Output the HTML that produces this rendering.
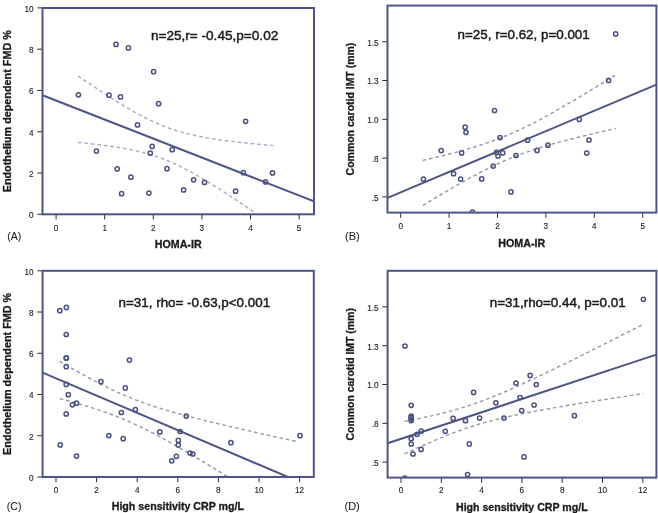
<!DOCTYPE html>
<html><head><meta charset="utf-8"><style>
html,body{margin:0;padding:0;background:#fff;}
svg{display:block;font-family:"Liberation Sans", sans-serif;filter:blur(0.3px);}
</style></head><body>
<svg width="658" height="513" viewBox="0 0 658 513">
<rect width="658" height="513" fill="#fff"/>
<clipPath id="cA"><rect x="42.5" y="8" width="271.5" height="206.3"/></clipPath>
<line x1="37.3" y1="214.3" x2="42.5" y2="214.3" stroke="#2a2a2a" stroke-width="1"/>
<text x="33.6" y="218.20000000000002" font-size="8.2" font-weight="normal" text-anchor="end" fill="#1a1a1a" stroke="#1a1a1a" stroke-width="0.12">0</text>
<line x1="37.3" y1="173.02" x2="42.5" y2="173.02" stroke="#2a2a2a" stroke-width="1"/>
<text x="33.6" y="176.92000000000002" font-size="8.2" font-weight="normal" text-anchor="end" fill="#1a1a1a" stroke="#1a1a1a" stroke-width="0.12">2</text>
<line x1="37.3" y1="131.74" x2="42.5" y2="131.74" stroke="#2a2a2a" stroke-width="1"/>
<text x="33.6" y="135.64000000000001" font-size="8.2" font-weight="normal" text-anchor="end" fill="#1a1a1a" stroke="#1a1a1a" stroke-width="0.12">4</text>
<line x1="37.3" y1="90.46000000000001" x2="42.5" y2="90.46000000000001" stroke="#2a2a2a" stroke-width="1"/>
<text x="33.6" y="94.36000000000001" font-size="8.2" font-weight="normal" text-anchor="end" fill="#1a1a1a" stroke="#1a1a1a" stroke-width="0.12">6</text>
<line x1="37.3" y1="49.18000000000001" x2="42.5" y2="49.18000000000001" stroke="#2a2a2a" stroke-width="1"/>
<text x="33.6" y="53.080000000000005" font-size="8.2" font-weight="normal" text-anchor="end" fill="#1a1a1a" stroke="#1a1a1a" stroke-width="0.12">8</text>
<line x1="37.3" y1="7.900000000000006" x2="42.5" y2="7.900000000000006" stroke="#2a2a2a" stroke-width="1"/>
<text x="33.6" y="11.800000000000006" font-size="8.2" font-weight="normal" text-anchor="end" fill="#1a1a1a" stroke="#1a1a1a" stroke-width="0.12">10</text>
<line x1="56.1" y1="214.3" x2="56.1" y2="219.5" stroke="#2a2a2a" stroke-width="1"/>
<text x="56.1" y="231.2" font-size="8.2" font-weight="normal" text-anchor="middle" fill="#1a1a1a" stroke="#1a1a1a" stroke-width="0.12">0</text>
<line x1="104.7" y1="214.3" x2="104.7" y2="219.5" stroke="#2a2a2a" stroke-width="1"/>
<text x="104.7" y="231.2" font-size="8.2" font-weight="normal" text-anchor="middle" fill="#1a1a1a" stroke="#1a1a1a" stroke-width="0.12">1</text>
<line x1="153.3" y1="214.3" x2="153.3" y2="219.5" stroke="#2a2a2a" stroke-width="1"/>
<text x="153.3" y="231.2" font-size="8.2" font-weight="normal" text-anchor="middle" fill="#1a1a1a" stroke="#1a1a1a" stroke-width="0.12">2</text>
<line x1="201.9" y1="214.3" x2="201.9" y2="219.5" stroke="#2a2a2a" stroke-width="1"/>
<text x="201.9" y="231.2" font-size="8.2" font-weight="normal" text-anchor="middle" fill="#1a1a1a" stroke="#1a1a1a" stroke-width="0.12">3</text>
<line x1="250.5" y1="214.3" x2="250.5" y2="219.5" stroke="#2a2a2a" stroke-width="1"/>
<text x="250.5" y="231.2" font-size="8.2" font-weight="normal" text-anchor="middle" fill="#1a1a1a" stroke="#1a1a1a" stroke-width="0.12">4</text>
<line x1="299.1" y1="214.3" x2="299.1" y2="219.5" stroke="#2a2a2a" stroke-width="1"/>
<text x="299.1" y="231.2" font-size="8.2" font-weight="normal" text-anchor="middle" fill="#1a1a1a" stroke="#1a1a1a" stroke-width="0.12">5</text>
<polyline clip-path="url(#cA)" points="78.00,75.97 80.44,77.63 82.88,79.28 85.32,80.93 87.77,82.57 90.21,84.20 92.65,85.83 95.09,87.45 97.53,89.07 99.97,90.67 102.41,92.27 104.85,93.85 107.30,95.43 109.74,96.99 112.18,98.54 114.62,100.08 117.06,101.61 119.50,103.12 121.94,104.61 124.38,106.09 126.83,107.54 129.27,108.98 131.71,110.40 134.15,111.79 136.59,113.15 139.03,114.49 141.47,115.81 143.91,117.09 146.36,118.34 148.80,119.55 151.24,120.74 153.68,121.88 156.12,122.99 158.56,124.06 161.00,125.09 163.44,126.08 165.88,127.03 168.33,127.94 170.77,128.80 173.21,129.63 175.65,130.43 178.09,131.18 180.53,131.90 182.97,132.58 185.42,133.23 187.86,133.85 190.30,134.44 192.74,135.00 195.18,135.54 197.62,136.05 200.06,136.54 202.50,137.00 204.94,137.45 207.39,137.88 209.83,138.29 212.27,138.68 214.71,139.06 217.15,139.43 219.59,139.78 222.03,140.12 224.47,140.45 226.92,140.77 229.36,141.08 231.80,141.38 234.24,141.68 236.68,141.96 239.12,142.24 241.56,142.51 244.01,142.77 246.45,143.03 248.89,143.29 251.33,143.53 253.77,143.78 256.21,144.02 258.65,144.25 261.09,144.48 263.54,144.71 265.98,144.93 268.42,145.15 270.86,145.37 273.30,145.58" fill="none" stroke="#a3abc6" stroke-width="1.4" stroke-dasharray="3.6 2.9"/>
<polyline clip-path="url(#cA)" points="78.00,142.36 80.44,142.61 82.88,142.87 85.32,143.13 87.77,143.39 90.21,143.67 92.65,143.95 95.09,144.23 97.53,144.53 99.97,144.83 102.41,145.14 104.85,145.46 107.30,145.80 109.74,146.14 112.18,146.49 114.62,146.86 117.06,147.25 119.50,147.64 121.94,148.06 124.38,148.49 126.83,148.94 129.27,149.41 131.71,149.90 134.15,150.42 136.59,150.96 139.03,151.53 141.47,152.12 143.91,152.75 146.36,153.41 148.80,154.10 151.24,154.83 153.68,155.59 156.12,156.39 158.56,157.23 161.00,158.10 163.44,159.02 165.88,159.98 168.33,160.98 170.77,162.02 173.21,163.09 175.65,164.21 178.09,165.36 180.53,166.55 182.97,167.78 185.42,169.03 187.86,170.32 190.30,171.64 192.74,172.99 195.18,174.36 197.62,175.75 200.06,177.17 202.50,178.62 204.94,180.08 207.39,181.56 209.83,183.05 212.27,184.57 214.71,186.09 217.15,187.64 219.59,189.19 222.03,190.76 224.47,192.34 226.92,193.92 229.36,195.52 231.80,197.13 234.24,198.74 236.68,200.37 239.12,202.00 241.56,203.63 244.01,205.27 246.45,206.92 248.89,208.58 251.33,210.24 253.77,211.90 256.21,213.57 258.65,215.24 261.09,216.92 263.54,218.60 265.98,220.29 268.42,221.97 270.86,223.67 273.30,225.36" fill="none" stroke="#a3abc6" stroke-width="1.4" stroke-dasharray="3.6 2.9"/>
<line clip-path="url(#cA)" x1="42.5" y1="95.30" x2="314" y2="201.37" stroke="#4b5687" stroke-width="2"/>
<circle clip-path="url(#cA)" cx="116.0" cy="44.4" r="2.1" fill="none" stroke="#4a5082" stroke-width="1.5"/>
<circle clip-path="url(#cA)" cx="128.4" cy="47.9" r="2.1" fill="none" stroke="#4a5082" stroke-width="1.5"/>
<circle clip-path="url(#cA)" cx="153.6" cy="71.7" r="2.1" fill="none" stroke="#4a5082" stroke-width="1.5"/>
<circle clip-path="url(#cA)" cx="78.4" cy="94.8" r="2.1" fill="none" stroke="#4a5082" stroke-width="1.5"/>
<circle clip-path="url(#cA)" cx="109" cy="95.2" r="2.1" fill="none" stroke="#4a5082" stroke-width="1.5"/>
<circle clip-path="url(#cA)" cx="120.5" cy="96.9" r="2.1" fill="none" stroke="#4a5082" stroke-width="1.5"/>
<circle clip-path="url(#cA)" cx="158.6" cy="103.7" r="2.1" fill="none" stroke="#4a5082" stroke-width="1.5"/>
<circle clip-path="url(#cA)" cx="137.5" cy="124.9" r="2.1" fill="none" stroke="#4a5082" stroke-width="1.5"/>
<circle clip-path="url(#cA)" cx="152.2" cy="146.4" r="2.1" fill="none" stroke="#4a5082" stroke-width="1.5"/>
<circle clip-path="url(#cA)" cx="172.2" cy="149.7" r="2.1" fill="none" stroke="#4a5082" stroke-width="1.5"/>
<circle clip-path="url(#cA)" cx="96.4" cy="151.1" r="2.1" fill="none" stroke="#4a5082" stroke-width="1.5"/>
<circle clip-path="url(#cA)" cx="150.3" cy="153.2" r="2.1" fill="none" stroke="#4a5082" stroke-width="1.5"/>
<circle clip-path="url(#cA)" cx="117.2" cy="168.9" r="2.1" fill="none" stroke="#4a5082" stroke-width="1.5"/>
<circle clip-path="url(#cA)" cx="167" cy="168.7" r="2.1" fill="none" stroke="#4a5082" stroke-width="1.5"/>
<circle clip-path="url(#cA)" cx="130.9" cy="177.2" r="2.1" fill="none" stroke="#4a5082" stroke-width="1.5"/>
<circle clip-path="url(#cA)" cx="121.6" cy="193.7" r="2.1" fill="none" stroke="#4a5082" stroke-width="1.5"/>
<circle clip-path="url(#cA)" cx="148.9" cy="193.1" r="2.1" fill="none" stroke="#4a5082" stroke-width="1.5"/>
<circle clip-path="url(#cA)" cx="245.6" cy="121.3" r="2.1" fill="none" stroke="#4a5082" stroke-width="1.5"/>
<circle clip-path="url(#cA)" cx="243.5" cy="172.7" r="2.1" fill="none" stroke="#4a5082" stroke-width="1.5"/>
<circle clip-path="url(#cA)" cx="272.5" cy="172.9" r="2.1" fill="none" stroke="#4a5082" stroke-width="1.5"/>
<circle clip-path="url(#cA)" cx="193.6" cy="179.8" r="2.1" fill="none" stroke="#4a5082" stroke-width="1.5"/>
<circle clip-path="url(#cA)" cx="204.5" cy="182.4" r="2.1" fill="none" stroke="#4a5082" stroke-width="1.5"/>
<circle clip-path="url(#cA)" cx="183.6" cy="189.9" r="2.1" fill="none" stroke="#4a5082" stroke-width="1.5"/>
<circle clip-path="url(#cA)" cx="235.6" cy="191.2" r="2.1" fill="none" stroke="#4a5082" stroke-width="1.5"/>
<circle clip-path="url(#cA)" cx="265.6" cy="181.9" r="2.1" fill="none" stroke="#4a5082" stroke-width="1.5"/>
<rect x="42.5" y="8" width="271.5" height="206.3" fill="none" stroke="#4b5687" stroke-width="2"/>
<text x="150.9" y="39.9" font-size="13.6" font-weight="normal" text-anchor="start" fill="#1a1a1a" stroke="#1a1a1a" stroke-width="0.45">n=25,r= -0.45,p=0.02</text>
<text x="154.8" y="248.3" font-size="11" font-weight="bold" text-anchor="start" fill="#1a1a1a" stroke="#1a1a1a" stroke-width="0.3" textLength="46.8" lengthAdjust="spacingAndGlyphs">HOMA-IR</text>
<text x="11.0" y="192.3" font-size="11" font-weight="bold" text-anchor="start" fill="#1a1a1a" stroke="#1a1a1a" stroke-width="0.3" transform="rotate(-90 11.0 192.3)" textLength="162.1" lengthAdjust="spacingAndGlyphs">Endothelium dependent FMD %</text>
<text x="7.3" y="239.7" font-size="10.5" font-weight="normal" text-anchor="start" fill="#1a1a1a" stroke="#1a1a1a" stroke-width="0.05">(A)</text>
<clipPath id="cB"><rect x="387.5" y="5.6" width="268.9" height="207.0"/></clipPath>
<line x1="382.3" y1="196.9" x2="387.5" y2="196.9" stroke="#2a2a2a" stroke-width="1"/>
<text x="378.6" y="200.8" font-size="8.2" font-weight="normal" text-anchor="end" fill="#1a1a1a" stroke="#1a1a1a" stroke-width="0.12">.5</text>
<line x1="382.3" y1="158.10000000000002" x2="387.5" y2="158.10000000000002" stroke="#2a2a2a" stroke-width="1"/>
<text x="378.6" y="162.00000000000003" font-size="8.2" font-weight="normal" text-anchor="end" fill="#1a1a1a" stroke="#1a1a1a" stroke-width="0.12">.8</text>
<line x1="382.3" y1="119.30000000000001" x2="387.5" y2="119.30000000000001" stroke="#2a2a2a" stroke-width="1"/>
<text x="378.6" y="123.20000000000002" font-size="8.2" font-weight="normal" text-anchor="end" fill="#1a1a1a" stroke="#1a1a1a" stroke-width="0.12">1.0</text>
<line x1="382.3" y1="80.50000000000001" x2="387.5" y2="80.50000000000001" stroke="#2a2a2a" stroke-width="1"/>
<text x="378.6" y="84.40000000000002" font-size="8.2" font-weight="normal" text-anchor="end" fill="#1a1a1a" stroke="#1a1a1a" stroke-width="0.12">1.3</text>
<line x1="382.3" y1="41.70000000000002" x2="387.5" y2="41.70000000000002" stroke="#2a2a2a" stroke-width="1"/>
<text x="378.6" y="45.600000000000016" font-size="8.2" font-weight="normal" text-anchor="end" fill="#1a1a1a" stroke="#1a1a1a" stroke-width="0.12">1.5</text>
<line x1="400.7" y1="212.6" x2="400.7" y2="217.79999999999998" stroke="#2a2a2a" stroke-width="1"/>
<text x="400.7" y="229.2" font-size="8.2" font-weight="normal" text-anchor="middle" fill="#1a1a1a" stroke="#1a1a1a" stroke-width="0.12">0</text>
<line x1="449.09999999999997" y1="212.6" x2="449.09999999999997" y2="217.79999999999998" stroke="#2a2a2a" stroke-width="1"/>
<text x="449.09999999999997" y="229.2" font-size="8.2" font-weight="normal" text-anchor="middle" fill="#1a1a1a" stroke="#1a1a1a" stroke-width="0.12">1</text>
<line x1="497.5" y1="212.6" x2="497.5" y2="217.79999999999998" stroke="#2a2a2a" stroke-width="1"/>
<text x="497.5" y="229.2" font-size="8.2" font-weight="normal" text-anchor="middle" fill="#1a1a1a" stroke="#1a1a1a" stroke-width="0.12">2</text>
<line x1="545.9" y1="212.6" x2="545.9" y2="217.79999999999998" stroke="#2a2a2a" stroke-width="1"/>
<text x="545.9" y="229.2" font-size="8.2" font-weight="normal" text-anchor="middle" fill="#1a1a1a" stroke="#1a1a1a" stroke-width="0.12">3</text>
<line x1="594.3" y1="212.6" x2="594.3" y2="217.79999999999998" stroke="#2a2a2a" stroke-width="1"/>
<text x="594.3" y="229.2" font-size="8.2" font-weight="normal" text-anchor="middle" fill="#1a1a1a" stroke="#1a1a1a" stroke-width="0.12">4</text>
<line x1="642.7" y1="212.6" x2="642.7" y2="217.79999999999998" stroke="#2a2a2a" stroke-width="1"/>
<text x="642.7" y="229.2" font-size="8.2" font-weight="normal" text-anchor="middle" fill="#1a1a1a" stroke="#1a1a1a" stroke-width="0.12">5</text>
<polyline clip-path="url(#cB)" points="422.80,160.48 425.21,159.91 427.62,159.34 430.03,158.76 432.44,158.18 434.86,157.60 437.27,157.01 439.68,156.41 442.09,155.81 444.50,155.21 446.91,154.59 449.32,153.97 451.74,153.35 454.15,152.71 456.56,152.07 458.97,151.41 461.38,150.75 463.79,150.08 466.20,149.39 468.61,148.69 471.03,147.98 473.44,147.26 475.85,146.53 478.26,145.77 480.67,145.01 483.08,144.22 485.49,143.42 487.90,142.60 490.32,141.76 492.73,140.90 495.14,140.02 497.55,139.11 499.96,138.19 502.37,137.24 504.78,136.27 507.19,135.27 509.61,134.25 512.02,133.21 514.43,132.15 516.84,131.06 519.25,129.95 521.66,128.81 524.07,127.66 526.48,126.48 528.89,125.29 531.31,124.07 533.72,122.84 536.13,121.59 538.54,120.32 540.95,119.04 543.36,117.74 545.77,116.43 548.19,115.10 550.60,113.76 553.01,112.41 555.42,111.05 557.83,109.68 560.24,108.30 562.65,106.91 565.06,105.52 567.48,104.11 569.89,102.70 572.30,101.28 574.71,99.85 577.12,98.42 579.53,96.98 581.94,95.54 584.35,94.09 586.77,92.64 589.18,91.18 591.59,89.72 594.00,88.26 596.41,86.79 598.82,85.32 601.23,83.84 603.64,82.36 606.06,80.88 608.47,79.40 610.88,77.91 613.29,76.42 615.70,74.93" fill="none" stroke="#9298a8" stroke-width="1.4" stroke-dasharray="3.6 2.9"/>
<polyline clip-path="url(#cB)" points="422.80,205.50 425.21,204.04 427.62,202.58 430.03,201.12 432.44,199.67 434.86,198.22 437.27,196.78 439.68,195.35 442.09,193.92 444.50,192.49 446.91,191.07 449.32,189.66 451.74,188.26 454.15,186.86 456.56,185.48 458.97,184.10 461.38,182.73 463.79,181.37 466.20,180.03 468.61,178.69 471.03,177.37 473.44,176.06 475.85,174.77 478.26,173.49 480.67,172.22 483.08,170.98 485.49,169.75 487.90,168.54 490.32,167.35 492.73,166.18 495.14,165.03 497.55,163.90 499.96,162.79 502.37,161.71 504.78,160.65 507.19,159.61 509.61,158.60 512.02,157.61 514.43,156.65 516.84,155.70 519.25,154.78 521.66,153.89 524.07,153.01 526.48,152.15 528.89,151.32 531.31,150.50 533.72,149.70 536.13,148.92 538.54,148.16 540.95,147.41 543.36,146.68 545.77,145.96 548.19,145.25 550.60,144.56 553.01,143.88 555.42,143.21 557.83,142.55 560.24,141.90 562.65,141.25 565.06,140.62 567.48,139.99 569.89,139.38 572.30,138.76 574.71,138.16 577.12,137.56 579.53,136.97 581.94,136.38 584.35,135.79 586.77,135.22 589.18,134.64 591.59,134.07 594.00,133.51 596.41,132.94 598.82,132.38 601.23,131.83 603.64,131.28 606.06,130.73 608.47,130.18 610.88,129.63 613.29,129.09 615.70,128.55" fill="none" stroke="#9298a8" stroke-width="1.4" stroke-dasharray="3.6 2.9"/>
<line clip-path="url(#cB)" x1="387.5" y1="197.86" x2="656.4" y2="84.60" stroke="#4b5687" stroke-width="2"/>
<circle clip-path="url(#cB)" cx="615.7" cy="33.9" r="2.1" fill="none" stroke="#4a5082" stroke-width="1.5"/>
<circle clip-path="url(#cB)" cx="608.6" cy="80.4" r="2.1" fill="none" stroke="#4a5082" stroke-width="1.5"/>
<circle clip-path="url(#cB)" cx="494.5" cy="110.5" r="2.1" fill="none" stroke="#4a5082" stroke-width="1.5"/>
<circle clip-path="url(#cB)" cx="465.1" cy="127.2" r="2.1" fill="none" stroke="#4a5082" stroke-width="1.5"/>
<circle clip-path="url(#cB)" cx="466" cy="132.4" r="2.1" fill="none" stroke="#4a5082" stroke-width="1.5"/>
<circle clip-path="url(#cB)" cx="500.1" cy="137.6" r="2.1" fill="none" stroke="#4a5082" stroke-width="1.5"/>
<circle clip-path="url(#cB)" cx="441.2" cy="150.6" r="2.1" fill="none" stroke="#4a5082" stroke-width="1.5"/>
<circle clip-path="url(#cB)" cx="461.6" cy="152.9" r="2.1" fill="none" stroke="#4a5082" stroke-width="1.5"/>
<circle clip-path="url(#cB)" cx="496.5" cy="152.4" r="2.1" fill="none" stroke="#4a5082" stroke-width="1.5"/>
<circle clip-path="url(#cB)" cx="502.7" cy="152.9" r="2.1" fill="none" stroke="#4a5082" stroke-width="1.5"/>
<circle clip-path="url(#cB)" cx="498" cy="156" r="2.1" fill="none" stroke="#4a5082" stroke-width="1.5"/>
<circle clip-path="url(#cB)" cx="516" cy="155.5" r="2.1" fill="none" stroke="#4a5082" stroke-width="1.5"/>
<circle clip-path="url(#cB)" cx="493.2" cy="166.1" r="2.1" fill="none" stroke="#4a5082" stroke-width="1.5"/>
<circle clip-path="url(#cB)" cx="453.6" cy="173.7" r="2.1" fill="none" stroke="#4a5082" stroke-width="1.5"/>
<circle clip-path="url(#cB)" cx="423.4" cy="179.1" r="2.1" fill="none" stroke="#4a5082" stroke-width="1.5"/>
<circle clip-path="url(#cB)" cx="460.6" cy="179.1" r="2.1" fill="none" stroke="#4a5082" stroke-width="1.5"/>
<circle clip-path="url(#cB)" cx="481.7" cy="178.9" r="2.1" fill="none" stroke="#4a5082" stroke-width="1.5"/>
<circle clip-path="url(#cB)" cx="511" cy="191.9" r="2.1" fill="none" stroke="#4a5082" stroke-width="1.5"/>
<circle clip-path="url(#cB)" cx="472.4" cy="212.2" r="2.1" fill="none" stroke="#4a5082" stroke-width="1.5"/>
<circle clip-path="url(#cB)" cx="579.3" cy="119.4" r="2.1" fill="none" stroke="#4a5082" stroke-width="1.5"/>
<circle clip-path="url(#cB)" cx="527.6" cy="140.2" r="2.1" fill="none" stroke="#4a5082" stroke-width="1.5"/>
<circle clip-path="url(#cB)" cx="589" cy="140" r="2.1" fill="none" stroke="#4a5082" stroke-width="1.5"/>
<circle clip-path="url(#cB)" cx="547.9" cy="145.2" r="2.1" fill="none" stroke="#4a5082" stroke-width="1.5"/>
<circle clip-path="url(#cB)" cx="537.1" cy="150.4" r="2.1" fill="none" stroke="#4a5082" stroke-width="1.5"/>
<circle clip-path="url(#cB)" cx="586.7" cy="153.1" r="2.1" fill="none" stroke="#4a5082" stroke-width="1.5"/>
<rect x="387.5" y="5.6" width="268.9" height="207.0" fill="none" stroke="#4b5687" stroke-width="2"/>
<text x="457.6" y="38.8" font-size="13.4" font-weight="normal" text-anchor="start" fill="#1a1a1a" stroke="#1a1a1a" stroke-width="0.45">n=25, r=0.62, p=0.001</text>
<text x="498.3" y="247.0" font-size="11" font-weight="bold" text-anchor="start" fill="#1a1a1a" stroke="#1a1a1a" stroke-width="0.3" textLength="47.0" lengthAdjust="spacingAndGlyphs">HOMA-IR</text>
<text x="354.0" y="175.4" font-size="11" font-weight="bold" text-anchor="start" fill="#1a1a1a" stroke="#1a1a1a" stroke-width="0.3" transform="rotate(-90 354.0 175.4)" textLength="132.7" lengthAdjust="spacingAndGlyphs">Common carotid IMT (mm)</text>
<text x="345.0" y="239.7" font-size="11" font-weight="normal" text-anchor="start" fill="#1a1a1a" stroke="#1a1a1a" stroke-width="0.05">(B)</text>
<clipPath id="cC"><rect x="42.6" y="270.8" width="271.2" height="206.2"/></clipPath>
<line x1="37.4" y1="477.0" x2="42.6" y2="477.0" stroke="#2a2a2a" stroke-width="1"/>
<text x="33.6" y="480.9" font-size="8.2" font-weight="normal" text-anchor="end" fill="#1a1a1a" stroke="#1a1a1a" stroke-width="0.12">0</text>
<line x1="37.4" y1="435.76" x2="42.6" y2="435.76" stroke="#2a2a2a" stroke-width="1"/>
<text x="33.6" y="439.65999999999997" font-size="8.2" font-weight="normal" text-anchor="end" fill="#1a1a1a" stroke="#1a1a1a" stroke-width="0.12">2</text>
<line x1="37.4" y1="394.52" x2="42.6" y2="394.52" stroke="#2a2a2a" stroke-width="1"/>
<text x="33.6" y="398.41999999999996" font-size="8.2" font-weight="normal" text-anchor="end" fill="#1a1a1a" stroke="#1a1a1a" stroke-width="0.12">4</text>
<line x1="37.4" y1="353.28" x2="42.6" y2="353.28" stroke="#2a2a2a" stroke-width="1"/>
<text x="33.6" y="357.17999999999995" font-size="8.2" font-weight="normal" text-anchor="end" fill="#1a1a1a" stroke="#1a1a1a" stroke-width="0.12">6</text>
<line x1="37.4" y1="312.03999999999996" x2="42.6" y2="312.03999999999996" stroke="#2a2a2a" stroke-width="1"/>
<text x="33.6" y="315.93999999999994" font-size="8.2" font-weight="normal" text-anchor="end" fill="#1a1a1a" stroke="#1a1a1a" stroke-width="0.12">8</text>
<line x1="37.4" y1="270.79999999999995" x2="42.6" y2="270.79999999999995" stroke="#2a2a2a" stroke-width="1"/>
<text x="33.6" y="274.69999999999993" font-size="8.2" font-weight="normal" text-anchor="end" fill="#1a1a1a" stroke="#1a1a1a" stroke-width="0.12">10</text>
<line x1="56.0" y1="477" x2="56.0" y2="482.2" stroke="#2a2a2a" stroke-width="1"/>
<text x="56.0" y="492.7" font-size="8.2" font-weight="normal" text-anchor="middle" fill="#1a1a1a" stroke="#1a1a1a" stroke-width="0.12">0</text>
<line x1="96.6" y1="477" x2="96.6" y2="482.2" stroke="#2a2a2a" stroke-width="1"/>
<text x="96.6" y="492.7" font-size="8.2" font-weight="normal" text-anchor="middle" fill="#1a1a1a" stroke="#1a1a1a" stroke-width="0.12">2</text>
<line x1="137.2" y1="477" x2="137.2" y2="482.2" stroke="#2a2a2a" stroke-width="1"/>
<text x="137.2" y="492.7" font-size="8.2" font-weight="normal" text-anchor="middle" fill="#1a1a1a" stroke="#1a1a1a" stroke-width="0.12">4</text>
<line x1="177.8" y1="477" x2="177.8" y2="482.2" stroke="#2a2a2a" stroke-width="1"/>
<text x="177.8" y="492.7" font-size="8.2" font-weight="normal" text-anchor="middle" fill="#1a1a1a" stroke="#1a1a1a" stroke-width="0.12">6</text>
<line x1="218.4" y1="477" x2="218.4" y2="482.2" stroke="#2a2a2a" stroke-width="1"/>
<text x="218.4" y="492.7" font-size="8.2" font-weight="normal" text-anchor="middle" fill="#1a1a1a" stroke="#1a1a1a" stroke-width="0.12">8</text>
<line x1="259.0" y1="477" x2="259.0" y2="482.2" stroke="#2a2a2a" stroke-width="1"/>
<text x="259.0" y="492.7" font-size="8.2" font-weight="normal" text-anchor="middle" fill="#1a1a1a" stroke="#1a1a1a" stroke-width="0.12">10</text>
<line x1="299.6" y1="477" x2="299.6" y2="482.2" stroke="#2a2a2a" stroke-width="1"/>
<text x="299.6" y="492.7" font-size="8.2" font-weight="normal" text-anchor="middle" fill="#1a1a1a" stroke="#1a1a1a" stroke-width="0.12">12</text>
<polyline clip-path="url(#cC)" points="59.80,361.32 62.77,363.07 65.74,364.81 68.71,366.53 71.69,368.25 74.66,369.95 77.63,371.64 80.60,373.31 83.57,374.97 86.54,376.60 89.51,378.22 92.48,379.82 95.45,381.40 98.43,382.95 101.40,384.48 104.37,385.98 107.34,387.45 110.31,388.89 113.28,390.31 116.25,391.69 119.22,393.03 122.20,394.35 125.17,395.63 128.14,396.87 131.11,398.08 134.08,399.26 137.05,400.41 140.02,401.52 143.00,402.60 145.97,403.65 148.94,404.68 151.91,405.67 154.88,406.65 157.85,407.59 160.82,408.52 163.79,409.43 166.76,410.31 169.74,411.18 172.71,412.04 175.68,412.87 178.65,413.70 181.62,414.51 184.59,415.31 187.56,416.10 190.53,416.88 193.51,417.64 196.48,418.40 199.45,419.16 202.42,419.90 205.39,420.64 208.36,421.37 211.33,422.09 214.31,422.81 217.28,423.53 220.25,424.24 223.22,424.94 226.19,425.64 229.16,426.34 232.13,427.03 235.10,427.72 238.07,428.41 241.05,429.09 244.02,429.77 246.99,430.45 249.96,431.13 252.93,431.80 255.90,432.47 258.87,433.14 261.84,433.81 264.82,434.48 267.79,435.14 270.76,435.80 273.73,436.46 276.70,437.12 279.67,437.78 282.64,438.43 285.62,439.09 288.59,439.74 291.56,440.40 294.53,441.05 297.50,441.70" fill="none" stroke="#9298a8" stroke-width="1.4" stroke-dasharray="3.6 2.9"/>
<polyline clip-path="url(#cC)" points="59.80,398.66 62.77,399.43 65.74,400.22 68.71,401.02 71.69,401.83 74.66,402.66 77.63,403.50 80.60,404.35 83.57,405.22 86.54,406.11 89.51,407.02 92.48,407.94 95.45,408.89 98.43,409.87 101.40,410.87 104.37,411.89 107.34,412.95 110.31,414.03 113.28,415.14 116.25,416.29 119.22,417.47 122.20,418.68 125.17,419.93 128.14,421.21 131.11,422.52 134.08,423.87 137.05,425.25 140.02,426.67 143.00,428.11 145.97,429.58 148.94,431.09 151.91,432.62 154.88,434.17 157.85,435.75 160.82,437.35 163.79,438.97 166.76,440.61 169.74,442.26 172.71,443.94 175.68,445.62 178.65,447.33 181.62,449.04 184.59,450.77 187.56,452.51 190.53,454.25 193.51,456.01 196.48,457.78 199.45,459.55 202.42,461.33 205.39,463.12 208.36,464.92 211.33,466.72 214.31,468.53 217.28,470.34 220.25,472.15 223.22,473.98 226.19,475.80 229.16,477.63 232.13,479.46 235.10,481.30 238.07,483.14 241.05,484.98 244.02,486.83 246.99,488.67 249.96,490.52 252.93,492.38 255.90,494.23 258.87,496.09 261.84,497.95 264.82,499.81 267.79,501.67 270.76,503.53 273.73,505.40 276.70,507.27 279.67,509.14 282.64,511.01 285.62,512.88 288.59,514.75 291.56,516.62 294.53,518.50 297.50,520.37" fill="none" stroke="#9298a8" stroke-width="1.4" stroke-dasharray="3.6 2.9"/>
<line clip-path="url(#cC)" x1="42.6" y1="372.68" x2="313.8" y2="487.96" stroke="#4b5687" stroke-width="2"/>
<circle clip-path="url(#cC)" cx="59.8" cy="310.7" r="2.1" fill="none" stroke="#4a5082" stroke-width="1.5"/>
<circle clip-path="url(#cC)" cx="66.4" cy="307.4" r="2.1" fill="none" stroke="#4a5082" stroke-width="1.5"/>
<circle clip-path="url(#cC)" cx="66.2" cy="334.5" r="2.1" fill="none" stroke="#4a5082" stroke-width="1.5"/>
<circle clip-path="url(#cC)" cx="66.2" cy="357.8" r="2.1" fill="none" stroke="#4a5082" stroke-width="1.5"/>
<circle clip-path="url(#cC)" cx="66.4" cy="358.2" r="2.1" fill="none" stroke="#4a5082" stroke-width="1.5"/>
<circle clip-path="url(#cC)" cx="66.2" cy="366.7" r="2.1" fill="none" stroke="#4a5082" stroke-width="1.5"/>
<circle clip-path="url(#cC)" cx="129.4" cy="360.1" r="2.1" fill="none" stroke="#4a5082" stroke-width="1.5"/>
<circle clip-path="url(#cC)" cx="66.2" cy="384.4" r="2.1" fill="none" stroke="#4a5082" stroke-width="1.5"/>
<circle clip-path="url(#cC)" cx="100.9" cy="381.7" r="2.1" fill="none" stroke="#4a5082" stroke-width="1.5"/>
<circle clip-path="url(#cC)" cx="125.3" cy="387.9" r="2.1" fill="none" stroke="#4a5082" stroke-width="1.5"/>
<circle clip-path="url(#cC)" cx="68.3" cy="394.7" r="2.1" fill="none" stroke="#4a5082" stroke-width="1.5"/>
<circle clip-path="url(#cC)" cx="72.4" cy="404.8" r="2.1" fill="none" stroke="#4a5082" stroke-width="1.5"/>
<circle clip-path="url(#cC)" cx="76.5" cy="403.2" r="2.1" fill="none" stroke="#4a5082" stroke-width="1.5"/>
<circle clip-path="url(#cC)" cx="66.2" cy="413.9" r="2.1" fill="none" stroke="#4a5082" stroke-width="1.5"/>
<circle clip-path="url(#cC)" cx="121.4" cy="412.5" r="2.1" fill="none" stroke="#4a5082" stroke-width="1.5"/>
<circle clip-path="url(#cC)" cx="135.4" cy="409.6" r="2.1" fill="none" stroke="#4a5082" stroke-width="1.5"/>
<circle clip-path="url(#cC)" cx="108.8" cy="435.6" r="2.1" fill="none" stroke="#4a5082" stroke-width="1.5"/>
<circle clip-path="url(#cC)" cx="123.2" cy="438.7" r="2.1" fill="none" stroke="#4a5082" stroke-width="1.5"/>
<circle clip-path="url(#cC)" cx="159.8" cy="431.9" r="2.1" fill="none" stroke="#4a5082" stroke-width="1.5"/>
<circle clip-path="url(#cC)" cx="60.2" cy="444.9" r="2.1" fill="none" stroke="#4a5082" stroke-width="1.5"/>
<circle clip-path="url(#cC)" cx="76.5" cy="456.1" r="2.1" fill="none" stroke="#4a5082" stroke-width="1.5"/>
<circle clip-path="url(#cC)" cx="176.4" cy="456.3" r="2.1" fill="none" stroke="#4a5082" stroke-width="1.5"/>
<circle clip-path="url(#cC)" cx="171.7" cy="460.8" r="2.1" fill="none" stroke="#4a5082" stroke-width="1.5"/>
<circle clip-path="url(#cC)" cx="186.2" cy="416.1" r="2.1" fill="none" stroke="#4a5082" stroke-width="1.5"/>
<circle clip-path="url(#cC)" cx="180.1" cy="431.5" r="2.1" fill="none" stroke="#4a5082" stroke-width="1.5"/>
<circle clip-path="url(#cC)" cx="178.3" cy="440.4" r="2.1" fill="none" stroke="#4a5082" stroke-width="1.5"/>
<circle clip-path="url(#cC)" cx="178.3" cy="445.1" r="2.1" fill="none" stroke="#4a5082" stroke-width="1.5"/>
<circle clip-path="url(#cC)" cx="190" cy="453" r="2.1" fill="none" stroke="#4a5082" stroke-width="1.5"/>
<circle clip-path="url(#cC)" cx="192.8" cy="454" r="2.1" fill="none" stroke="#4a5082" stroke-width="1.5"/>
<circle clip-path="url(#cC)" cx="230.9" cy="442.7" r="2.1" fill="none" stroke="#4a5082" stroke-width="1.5"/>
<circle clip-path="url(#cC)" cx="300" cy="435.7" r="2.1" fill="none" stroke="#4a5082" stroke-width="1.5"/>
<rect x="42.6" y="270.8" width="271.2" height="206.2" fill="none" stroke="#4b5687" stroke-width="2"/>
<text x="118.6" y="306.6" font-size="13.4" font-weight="normal" text-anchor="start" fill="#1a1a1a" stroke="#1a1a1a" stroke-width="0.45">n=31, rho= -0.63,p&lt;0.001</text>
<text x="111.7" y="509.9" font-size="10.7" font-weight="bold" text-anchor="start" fill="#1a1a1a" stroke="#1a1a1a" stroke-width="0.3" textLength="132.3" lengthAdjust="spacingAndGlyphs">High sensitivity CRP mg/L</text>
<text x="11.0" y="454.9" font-size="11" font-weight="bold" text-anchor="start" fill="#1a1a1a" stroke="#1a1a1a" stroke-width="0.3" transform="rotate(-90 11.0 454.9)" textLength="162.1" lengthAdjust="spacingAndGlyphs">Endothelium dependent FMD %</text>
<text x="6.8" y="509.8" font-size="10.5" font-weight="normal" text-anchor="start" fill="#1a1a1a" stroke="#1a1a1a" stroke-width="0.05">(C)</text>
<clipPath id="cD"><rect x="387.6" y="270.8" width="268.79999999999995" height="206.8"/></clipPath>
<line x1="382.40000000000003" y1="462.1" x2="387.6" y2="462.1" stroke="#2a2a2a" stroke-width="1"/>
<text x="378.6" y="466.0" font-size="8.2" font-weight="normal" text-anchor="end" fill="#1a1a1a" stroke="#1a1a1a" stroke-width="0.12">.5</text>
<line x1="382.40000000000003" y1="423.3" x2="387.6" y2="423.3" stroke="#2a2a2a" stroke-width="1"/>
<text x="378.6" y="427.2" font-size="8.2" font-weight="normal" text-anchor="end" fill="#1a1a1a" stroke="#1a1a1a" stroke-width="0.12">.8</text>
<line x1="382.40000000000003" y1="384.5" x2="387.6" y2="384.5" stroke="#2a2a2a" stroke-width="1"/>
<text x="378.6" y="388.4" font-size="8.2" font-weight="normal" text-anchor="end" fill="#1a1a1a" stroke="#1a1a1a" stroke-width="0.12">1.0</text>
<line x1="382.40000000000003" y1="345.70000000000005" x2="387.6" y2="345.70000000000005" stroke="#2a2a2a" stroke-width="1"/>
<text x="378.6" y="349.6" font-size="8.2" font-weight="normal" text-anchor="end" fill="#1a1a1a" stroke="#1a1a1a" stroke-width="0.12">1.3</text>
<line x1="382.40000000000003" y1="306.90000000000003" x2="387.6" y2="306.90000000000003" stroke="#2a2a2a" stroke-width="1"/>
<text x="378.6" y="310.8" font-size="8.2" font-weight="normal" text-anchor="end" fill="#1a1a1a" stroke="#1a1a1a" stroke-width="0.12">1.5</text>
<line x1="401.0" y1="477.6" x2="401.0" y2="482.8" stroke="#2a2a2a" stroke-width="1"/>
<text x="401.0" y="493.3" font-size="8.2" font-weight="normal" text-anchor="middle" fill="#1a1a1a" stroke="#1a1a1a" stroke-width="0.12">0</text>
<line x1="441.3" y1="477.6" x2="441.3" y2="482.8" stroke="#2a2a2a" stroke-width="1"/>
<text x="441.3" y="493.3" font-size="8.2" font-weight="normal" text-anchor="middle" fill="#1a1a1a" stroke="#1a1a1a" stroke-width="0.12">2</text>
<line x1="481.6" y1="477.6" x2="481.6" y2="482.8" stroke="#2a2a2a" stroke-width="1"/>
<text x="481.6" y="493.3" font-size="8.2" font-weight="normal" text-anchor="middle" fill="#1a1a1a" stroke="#1a1a1a" stroke-width="0.12">4</text>
<line x1="521.9" y1="477.6" x2="521.9" y2="482.8" stroke="#2a2a2a" stroke-width="1"/>
<text x="521.9" y="493.3" font-size="8.2" font-weight="normal" text-anchor="middle" fill="#1a1a1a" stroke="#1a1a1a" stroke-width="0.12">6</text>
<line x1="562.2" y1="477.6" x2="562.2" y2="482.8" stroke="#2a2a2a" stroke-width="1"/>
<text x="562.2" y="493.3" font-size="8.2" font-weight="normal" text-anchor="middle" fill="#1a1a1a" stroke="#1a1a1a" stroke-width="0.12">8</text>
<line x1="602.5" y1="477.6" x2="602.5" y2="482.8" stroke="#2a2a2a" stroke-width="1"/>
<text x="602.5" y="493.3" font-size="8.2" font-weight="normal" text-anchor="middle" fill="#1a1a1a" stroke="#1a1a1a" stroke-width="0.12">10</text>
<line x1="642.8" y1="477.6" x2="642.8" y2="482.8" stroke="#2a2a2a" stroke-width="1"/>
<text x="642.8" y="493.3" font-size="8.2" font-weight="normal" text-anchor="middle" fill="#1a1a1a" stroke="#1a1a1a" stroke-width="0.12">12</text>
<polyline clip-path="url(#cD)" points="404.50,421.39 407.49,420.82 410.47,420.24 413.46,419.65 416.44,419.05 419.43,418.44 422.42,417.81 425.40,417.17 428.39,416.52 431.38,415.85 434.36,415.16 437.35,414.46 440.33,413.73 443.32,412.98 446.31,412.22 449.29,411.42 452.28,410.61 455.27,409.76 458.25,408.89 461.24,408.00 464.23,407.07 467.21,406.12 470.20,405.13 473.18,404.12 476.17,403.08 479.16,402.01 482.14,400.91 485.13,399.79 488.12,398.64 491.10,397.46 494.09,396.27 497.07,395.05 500.06,393.80 503.05,392.54 506.03,391.26 509.02,389.97 512.00,388.65 514.99,387.32 517.98,385.98 520.96,384.63 523.95,383.26 526.94,381.88 529.92,380.49 532.91,379.10 535.89,377.69 538.88,376.28 541.87,374.85 544.85,373.43 547.84,371.99 550.83,370.55 553.81,369.10 556.80,367.65 559.78,366.19 562.77,364.73 565.76,363.27 568.74,361.80 571.73,360.32 574.72,358.85 577.70,357.37 580.69,355.89 583.67,354.40 586.66,352.91 589.65,351.42 592.63,349.93 595.62,348.43 598.61,346.94 601.59,345.44 604.58,343.94 607.57,342.43 610.55,340.93 613.54,339.42 616.52,337.92 619.51,336.41 622.50,334.90 625.48,333.38 628.47,331.87 631.45,330.36 634.44,328.84 637.43,327.33 640.41,325.81 643.40,324.29" fill="none" stroke="#9298a8" stroke-width="1.4" stroke-dasharray="3.6 2.9"/>
<polyline clip-path="url(#cD)" points="404.50,453.99 407.49,452.59 410.47,451.20 413.46,449.82 416.44,448.45 419.43,447.10 422.42,445.76 425.40,444.43 428.39,443.11 431.38,441.81 434.36,440.53 437.35,439.27 440.33,438.03 443.32,436.80 446.31,435.61 449.29,434.43 452.28,433.28 455.27,432.15 458.25,431.05 461.24,429.98 464.23,428.94 467.21,427.92 470.20,426.94 473.18,425.98 476.17,425.06 479.16,424.16 482.14,423.29 485.13,422.44 488.12,421.62 491.10,420.83 494.09,420.06 497.07,419.31 500.06,418.58 503.05,417.88 506.03,417.19 509.02,416.52 512.00,415.86 514.99,415.22 517.98,414.59 520.96,413.98 523.95,413.38 526.94,412.79 529.92,412.21 532.91,411.64 535.89,411.07 538.88,410.52 541.87,409.97 544.85,409.43 547.84,408.90 550.83,408.37 553.81,407.85 556.80,407.33 559.78,406.82 562.77,406.32 565.76,405.81 568.74,405.31 571.73,404.82 574.72,404.33 577.70,403.84 580.69,403.35 583.67,402.87 586.66,402.39 589.65,401.91 592.63,401.43 595.62,400.96 598.61,400.49 601.59,400.02 604.58,399.55 607.57,399.09 610.55,398.62 613.54,398.16 616.52,397.70 619.51,397.24 622.50,396.78 625.48,396.32 628.47,395.87 631.45,395.41 634.44,394.96 637.43,394.51 640.41,394.06 643.40,393.60" fill="none" stroke="#9298a8" stroke-width="1.4" stroke-dasharray="3.6 2.9"/>
<line clip-path="url(#cD)" x1="387.6" y1="443.26" x2="656.4" y2="354.66" stroke="#4b5687" stroke-width="2"/>
<circle clip-path="url(#cD)" cx="405" cy="346.0" r="2.1" fill="none" stroke="#4a5082" stroke-width="1.5"/>
<circle clip-path="url(#cD)" cx="643.4" cy="299.3" r="2.1" fill="none" stroke="#4a5082" stroke-width="1.5"/>
<circle clip-path="url(#cD)" cx="411.2" cy="405.3" r="2.1" fill="none" stroke="#4a5082" stroke-width="1.5"/>
<circle clip-path="url(#cD)" cx="411.2" cy="416.2" r="2.1" fill="none" stroke="#4a5082" stroke-width="1.5"/>
<circle clip-path="url(#cD)" cx="411.2" cy="417.6" r="2.1" fill="none" stroke="#4a5082" stroke-width="1.5"/>
<circle clip-path="url(#cD)" cx="411.2" cy="419.1" r="2.1" fill="none" stroke="#4a5082" stroke-width="1.5"/>
<circle clip-path="url(#cD)" cx="411.2" cy="420.6" r="2.1" fill="none" stroke="#4a5082" stroke-width="1.5"/>
<circle clip-path="url(#cD)" cx="411.2" cy="438.7" r="2.1" fill="none" stroke="#4a5082" stroke-width="1.5"/>
<circle clip-path="url(#cD)" cx="411.2" cy="444" r="2.1" fill="none" stroke="#4a5082" stroke-width="1.5"/>
<circle clip-path="url(#cD)" cx="417" cy="434.3" r="2.1" fill="none" stroke="#4a5082" stroke-width="1.5"/>
<circle clip-path="url(#cD)" cx="421.2" cy="431.1" r="2.1" fill="none" stroke="#4a5082" stroke-width="1.5"/>
<circle clip-path="url(#cD)" cx="413" cy="454" r="2.1" fill="none" stroke="#4a5082" stroke-width="1.5"/>
<circle clip-path="url(#cD)" cx="421.1" cy="449.4" r="2.1" fill="none" stroke="#4a5082" stroke-width="1.5"/>
<circle clip-path="url(#cD)" cx="445.3" cy="431.3" r="2.1" fill="none" stroke="#4a5082" stroke-width="1.5"/>
<circle clip-path="url(#cD)" cx="453.1" cy="418.3" r="2.1" fill="none" stroke="#4a5082" stroke-width="1.5"/>
<circle clip-path="url(#cD)" cx="465.5" cy="420.7" r="2.1" fill="none" stroke="#4a5082" stroke-width="1.5"/>
<circle clip-path="url(#cD)" cx="473.6" cy="392.4" r="2.1" fill="none" stroke="#4a5082" stroke-width="1.5"/>
<circle clip-path="url(#cD)" cx="479.6" cy="418.1" r="2.1" fill="none" stroke="#4a5082" stroke-width="1.5"/>
<circle clip-path="url(#cD)" cx="469.3" cy="443.9" r="2.1" fill="none" stroke="#4a5082" stroke-width="1.5"/>
<circle clip-path="url(#cD)" cx="467.6" cy="474.5" r="2.1" fill="none" stroke="#4a5082" stroke-width="1.5"/>
<circle clip-path="url(#cD)" cx="404.8" cy="478" r="2.1" fill="none" stroke="#4a5082" stroke-width="1.5"/>
<circle clip-path="url(#cD)" cx="495.9" cy="402.8" r="2.1" fill="none" stroke="#4a5082" stroke-width="1.5"/>
<circle clip-path="url(#cD)" cx="504" cy="418" r="2.1" fill="none" stroke="#4a5082" stroke-width="1.5"/>
<circle clip-path="url(#cD)" cx="516" cy="383" r="2.1" fill="none" stroke="#4a5082" stroke-width="1.5"/>
<circle clip-path="url(#cD)" cx="520.1" cy="397.5" r="2.1" fill="none" stroke="#4a5082" stroke-width="1.5"/>
<circle clip-path="url(#cD)" cx="521.7" cy="410.5" r="2.1" fill="none" stroke="#4a5082" stroke-width="1.5"/>
<circle clip-path="url(#cD)" cx="524" cy="456.9" r="2.1" fill="none" stroke="#4a5082" stroke-width="1.5"/>
<circle clip-path="url(#cD)" cx="530.1" cy="375.4" r="2.1" fill="none" stroke="#4a5082" stroke-width="1.5"/>
<circle clip-path="url(#cD)" cx="536.3" cy="384.5" r="2.1" fill="none" stroke="#4a5082" stroke-width="1.5"/>
<circle clip-path="url(#cD)" cx="534.1" cy="405" r="2.1" fill="none" stroke="#4a5082" stroke-width="1.5"/>
<circle clip-path="url(#cD)" cx="574.4" cy="415.7" r="2.1" fill="none" stroke="#4a5082" stroke-width="1.5"/>
<rect x="387.6" y="270.8" width="268.79999999999995" height="206.8" fill="none" stroke="#4b5687" stroke-width="2"/>
<text x="489.8" y="306.6" font-size="13.4" font-weight="normal" text-anchor="start" fill="#1a1a1a" stroke="#1a1a1a" stroke-width="0.45">n=31,rho=0.44, p=0.01</text>
<text x="456.0" y="511.3" font-size="10.7" font-weight="bold" text-anchor="start" fill="#1a1a1a" stroke="#1a1a1a" stroke-width="0.3" textLength="131.6" lengthAdjust="spacingAndGlyphs">High sensitivity CRP mg/L</text>
<text x="354.0" y="440.5" font-size="11" font-weight="bold" text-anchor="start" fill="#1a1a1a" stroke="#1a1a1a" stroke-width="0.3" transform="rotate(-90 354.0 440.5)" textLength="132.4" lengthAdjust="spacingAndGlyphs">Common carotid IMT (mm)</text>
<text x="344.5" y="509.6" font-size="11" font-weight="normal" text-anchor="start" fill="#1a1a1a" stroke="#1a1a1a" stroke-width="0.05">(D)</text>
</svg>
</body></html>
